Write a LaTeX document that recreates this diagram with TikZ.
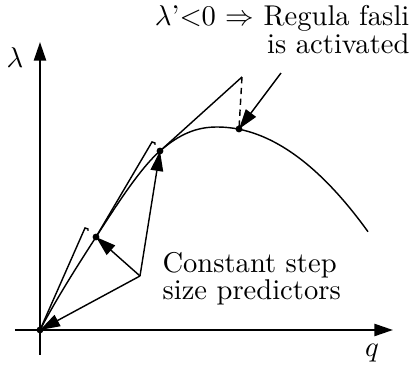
\documentclass[tikz,border=0pt]{standalone}
\usepackage{tikz}
\usetikzlibrary{arrows.meta}
\tikzset{
  axisline/.style={line width=0.8pt, -{Triangle[length=6.5pt,width=4.2pt]}},
  pline/.style={line width=0.5pt},
  parr/.style={pline, -{Triangle[length=7pt,width=4.4pt]}},
  dline/.style={pline, dash pattern=on 2.2pt off 1.6pt},
  lbl/.style={inner sep=0pt, font=\normalsize},
}

\begin{document}
\begin{tikzpicture}[x=0.35pt,y=0.35pt]
  \useasboundingbox (-40,-40) rectangle (371,330);
  % axes
  \coordinate (xs) at (-25,0);  \coordinate (xe) at (353,0);
  \coordinate (ys) at (0,-25);  \coordinate (ye) at (0,288);
  \draw[axisline] (xs) -- (xe);
  \draw[axisline] (ys) -- (ye);
  \node[lbl] (lam) at (-25,272) {$\lambda$};
  \node[lbl, anchor=base] (qlab) at (332,-27) {$q$};
  % points on the path
  \coordinate (p0) at (0,0);
  \coordinate (p1) at (56,93);
  \coordinate (p2) at (120,179);
  \coordinate (top) at (177,203);
  \coordinate (p3) at (199,201);
  \coordinate (q) at (100,54);
  % predictor tips
  \coordinate (t1) at (45,102);
  \coordinate (t2) at (112,188);
  \coordinate (t3) at (202,253);
  \coordinate (ar) at (241,257);
  % equilibrium path
  \draw[pline] (p0) .. controls (18,34) and (38,65) .. (p1)
                    .. controls (76,124) and (100,161.6) .. (p2)
                    .. controls (140,196.4) and (157,203) .. (top);
  \draw[pline] plot[domain=177:328, samples=40] (\x, {203-0.0046*(\x-177)*(\x-177)});
  % tangent predictors
  \draw[pline] (p0) -- (t1) -- ++(3,-1) -- ++(0,-2);
  \draw[pline] (p1) -- (t2) -- ++(3,-1) -- ++(0,-2);
  \draw[pline] (p2) -- (t3);
  \draw[dline] (t3) -- (p3);
  % constant step size predictors
  \draw[parr] (q) -- (p0);
  \draw[parr] (q) -- (p1);
  \draw[parr] (q) -- (p2);
  \draw[parr] (ar) -- (p3);
  \foreach \p in {p0,p1,p2,p3}
    \fill (\p) circle (1.2pt);
  \node[lbl, anchor=north west, align=left] (cst) at (122,78.5)
    {Constant step\\[-2.55pt]size predictors};
  \node[lbl, anchor=north east, align=right] (rf) at (370,325)
    {$\lambda$'$<$0 $\Rightarrow$ Regula fasli\\[-2.2pt]is activated};
\end{tikzpicture}
\end{document}
